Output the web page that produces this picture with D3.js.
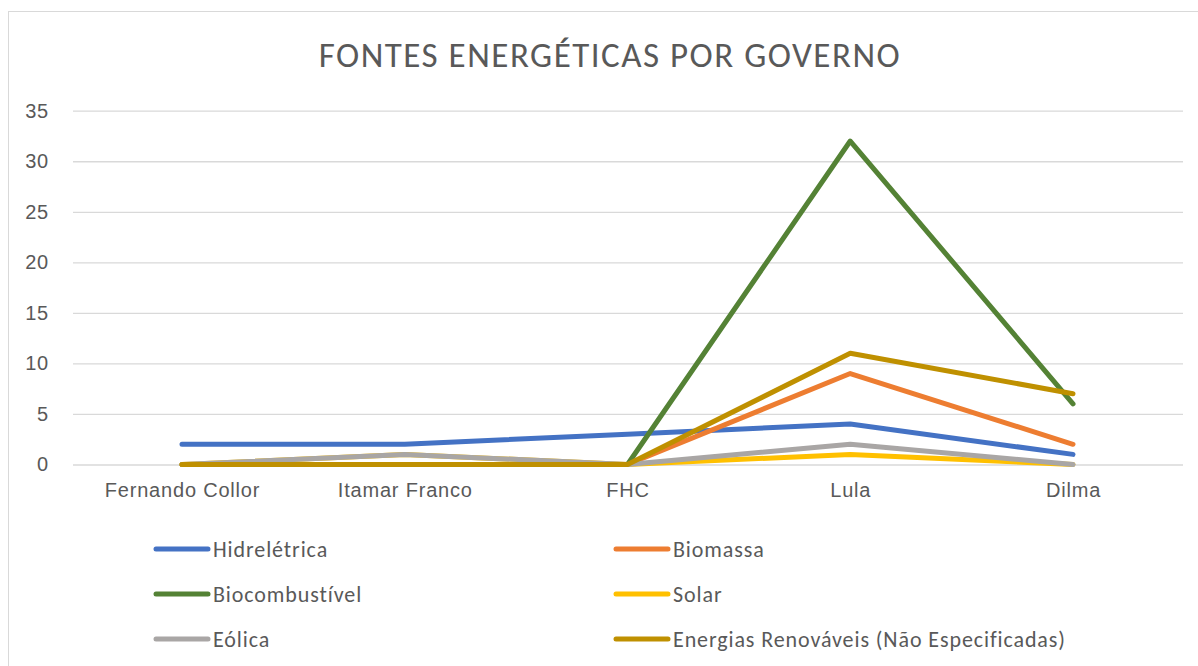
<!DOCTYPE html>
<html>
<head>
<meta charset="utf-8">
<script src="https://cdn.jsdelivr.net/npm/d3@7"></script>
<style>
  body { margin: 0; background: #fff; }
  svg { font-family: Carlito, Calibri, Lato, sans-serif; }
  .tick text { fill: #595959; }
</style>
</head>
<body>
<svg id="chart" width="1198" height="666"></svg>
<script>
// data
const governos = ["Fernando Collor", "Itamar Franco", "FHC", "Lula", "Dilma"]
const hidreletrica = [2, 2, 3, 4, 1]
const biomassa = [0, 0, 0, 9, 2]
const biocombustivel = [0, 0, 0, 32, 6]
const solar = [0, 1, 0, 1, 0]
const eolica = [0, 1, 0, 2, 0]
const renovaveis = [0, 0, 0, 11, 7]
const yTicks = [0, 5, 10, 15, 20, 25, 30, 35]

const series = [
    { name: "Hidrelétrica", values: hidreletrica, color: "#4472C4" },
    { name: "Biomassa", values: biomassa, color: "#ED7D31" },
    { name: "Biocombustível", values: biocombustivel, color: "#548235" },
    { name: "Solar", values: solar, color: "#FFC000" },
    { name: "Eólica", values: eolica, color: "#A9A6A5" },
    { name: "Energias Renováveis (Não Especificadas)", values: renovaveis, color: "#BF9000" }
]

const svg = d3.select("#chart")

// chart border (runs off the right and bottom edges)
svg.append("rect")
    .attr("x", 8.5).attr("y", 11.5)
    .attr("width", 1200).attr("height", 700)
    .attr("fill", "#fff")
    .attr("stroke", "#d9d9d9")

// title
svg.append("text")
    .attr("x", 610).attr("y", 67)
    .attr("text-anchor", "middle")
    .attr("fill", "#595959")
    .style("font-size", "35px")
    .style("letter-spacing", "1.5px")
    .text("FONTES ENERGÉTICAS POR GOVERNO")

// scales
const x = d3.scalePoint().domain(governos).range([182, 1073])
const y = d3.scaleLinear().domain([0, 35]).range([464.5, 110.7])

// grid
const grid = d3.axisLeft(y).tickValues(yTicks).tickSize(-(1183 - 73)).tickFormat("")
svg.append("g")
    .attr("class", "grid")
    .attr("transform", "translate(73,0)")
    .call(grid)
    .call(g => g.select(".domain").remove())
    .call(g => g.selectAll("line").attr("stroke", "#d9d9d9").attr("stroke-width", 1.3))

// y labels
svg.append("g")
    .attr("transform", "translate(49,0)")
    .call(d3.axisLeft(y).tickValues(yTicks).tickSize(0).tickPadding(0))
    .call(g => g.select(".domain").remove())
    .call(g => g.selectAll("text").style("font-size", "20px").style("letter-spacing", "0.8px"))

// x labels
svg.append("g")
    .attr("transform", "translate(0,483)")
    .call(d3.axisBottom(x).tickSize(0).tickPadding(0))
    .call(g => g.select(".domain").remove())
    .call(g => g.selectAll("text").style("font-size", "20px").style("letter-spacing", "0.8px").attr("dy", "0.71em"))

// lines
const line = d3.line()
    .x((d, i) => x(governos[i]))
    .y(d => y(d))

svg.append("g").selectAll("path")
    .data(series).enter()
    .append("path")
    .attr("d", d => line(d.values))
    .attr("fill", "none")
    .attr("stroke", d => d.color)
    .attr("stroke-width", 5)
    .attr("stroke-linecap", "round")
    .attr("stroke-linejoin", "round")

// legend, two columns
const legend = svg.append("g").selectAll("g")
    .data(series).enter()
    .append("g")
    .attr("transform", (d, i) => `translate(${i % 2 ? 616 : 156}, ${549 + Math.floor(i / 2) * 45})`)

legend.append("line")
    .attr("x1", 0).attr("x2", 52)
    .attr("stroke", d => d.color)
    .attr("stroke-width", 5)
    .attr("stroke-linecap", "round")

legend.append("text")
    .attr("x", 57)
    .attr("dy", "0.35em")
    .attr("fill", "#595959")
    .style("font-size", "22px")
    .style("letter-spacing", "0.9px")
    .text(d => d.name)
</script>
</body>
</html>
